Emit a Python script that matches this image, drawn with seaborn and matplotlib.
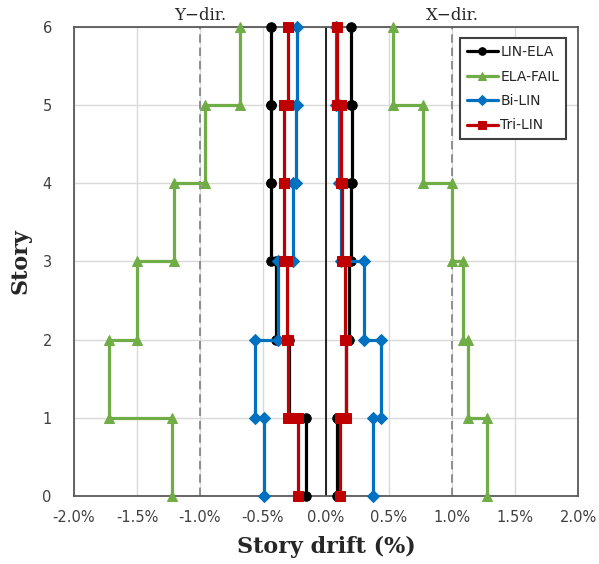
import numpy as np
import pandas as pd
import matplotlib
matplotlib.use("Agg")
import matplotlib.pyplot as plt
import seaborn as sns

# story drift (%) for stories 1..6
stories = [1, 2, 3, 4, 5, 6]
series = ["LIN-ELA", "ELA-FAIL", "Bi-LIN", "Tri-LIN"]

x_lin_ela = [0.09, 0.16, 0.18, 0.20, 0.21, 0.20]
x_ela_fail = [1.28, 1.13, 1.09, 1.00, 0.77, 0.53]
x_bi_lin = [0.37, 0.44, 0.30, 0.12, 0.10, 0.08]
x_tri_lin = [0.11, 0.16, 0.15, 0.13, 0.12, 0.09]

y_lin_ela = [-0.16, -0.29, -0.40, -0.44, -0.44, -0.44]
y_ela_fail = [-1.22, -1.72, -1.50, -1.21, -0.96, -0.68]
y_bi_lin = [-0.49, -0.56, -0.38, -0.26, -0.24, -0.23]
y_tri_lin = [-0.22, -0.30, -0.31, -0.33, -0.33, -0.30]

x_ticks = [-2.0, -1.5, -1.0, -0.5, 0.0, 0.5, 1.0, 1.5, 2.0]
limit_lines = [-1.0, 1.0]

colors = {"LIN-ELA": "black", "ELA-FAIL": "#70AD47", "Bi-LIN": "#0070C0", "Tri-LIN": "#C00000"}
markers = {"LIN-ELA": "o", "ELA-FAIL": "^", "Bi-LIN": "D", "Tri-LIN": "s"}
msizes = {"LIN-ELA": 6.8, "ELA-FAIL": 7, "Bi-LIN": 5.8, "Tri-LIN": 7}

drifts = {
    ("LIN-ELA", "X"): x_lin_ela, ("LIN-ELA", "Y"): y_lin_ela,
    ("ELA-FAIL", "X"): x_ela_fail, ("ELA-FAIL", "Y"): y_ela_fail,
    ("Bi-LIN", "X"): x_bi_lin, ("Bi-LIN", "Y"): y_bi_lin,
    ("Tri-LIN", "X"): x_tri_lin, ("Tri-LIN", "Y"): y_tri_lin,
}


def step_profile(values):
    # each story drawn as a vertical segment between its floor and ceiling
    xs, ys = [], []
    for s, v in zip(stories, values):
        xs += [v, v]
        ys += [s - 1, s]
    return xs, ys


rows = []
for (name, d), vals in drifts.items():
    xs, ys = step_profile(vals)
    for i, (a, b) in enumerate(zip(xs, ys)):
        rows.append({"series": name, "dir": d, "drift": a, "story": b, "order": i})
df = pd.DataFrame(rows)

sns.set_style("white")
fig = plt.figure(figsize=(5.99, 5.64), dpi=100)
ax = fig.add_axes([0.1235, 0.1206, 0.8415, 0.8315])

for xv in x_ticks:
    ax.axvline(xv, color="#d9d9d9", lw=1, zorder=0)
for yv in range(7):
    ax.axhline(yv, color="#d9d9d9", lw=1, zorder=0)
for xv in limit_lines:
    ax.axvline(xv, color="#7f7f7f", lw=1.2, ls=(0, (5, 3)), zorder=1)
ax.axvline(0, color="black", lw=1.2, zorder=1)

for name in series:
    for d in ["X", "Y"]:
        sub = df[(df.series == name) & (df.dir == d)].sort_values("order")
        sns.lineplot(data=sub, x="drift", y="story", sort=False, estimator=None,
                     color=colors[name], marker=markers[name], markersize=msizes[name],
                     markeredgecolor=colors[name], lw=2.3, ax=ax, clip_on=False,
                     label=name if d == "X" else None, zorder=3)

ax.set_xlim(-2.0, 2.0)
ax.set_ylim(0, 6)
ax.set_xticks(x_ticks)
ax.set_xticklabels([f"{v:.1f}%" for v in x_ticks])
ax.set_yticks(range(7))
ax.tick_params(axis="x", length=0, labelsize=10.5, pad=10, colors="#404040")
ax.tick_params(axis="y", length=0, labelsize=10.5, pad=16, colors="#404040")
for sp in ax.spines.values():
    sp.set_color("#595959")
    sp.set_linewidth(1.3)

ax.set_xlabel("Story drift (%)", family="DejaVu Serif", weight="bold", fontsize=16, labelpad=8)
ax.set_ylabel("Story", family="DejaVu Serif", weight="bold", fontsize=16, labelpad=8)

ax.text(-1.0, 6.04, "Y\u2212dir.", family="DejaVu Serif", fontsize=12, ha="center", va="bottom")
ax.text(1.0, 6.04, "X\u2212dir.", family="DejaVu Serif", fontsize=12, ha="center", va="bottom")

leg = ax.legend(loc="upper right", bbox_to_anchor=(0.985, 0.985), fancybox=False,
                edgecolor="#404040", framealpha=1, fontsize=10, handlelength=2.2,
                handletextpad=0.2, borderpad=0.5, labelspacing=0.75, markerscale=0.8,
                borderaxespad=0.3)
leg.get_frame().set_linewidth(1.5)

fig.savefig("out.png", dpi=100)
